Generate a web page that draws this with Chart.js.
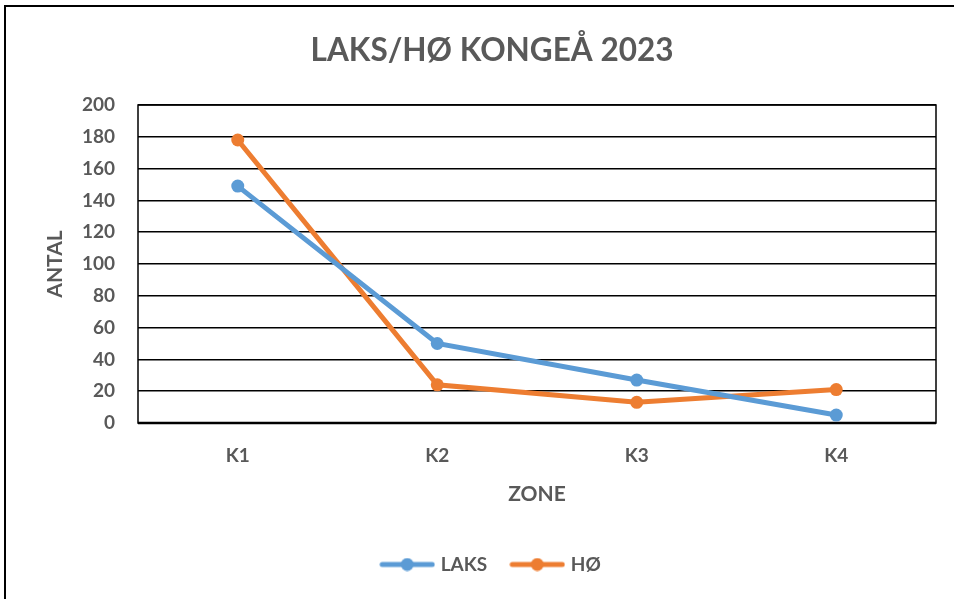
<!DOCTYPE html>
<html lang="da">
<head>
    <meta charset="UTF-8">
    <title>LAKS/HØ KONGEÅ 2023</title>
    <script src="https://cdn.jsdelivr.net/npm/chart.js@4.4.1/dist/chart.umd.min.js"></script>
    <style>
        body { margin: 0; background: #fff; }
        #chart { display: block; }
    </style>
</head>
<body>
    <canvas id="chart" width="954" height="599"></canvas>
    <script>
        const zones = ['K1', 'K2', 'K3', 'K4'];
        const laks = [149, 50, 27, 5];
        const hoe = [178, 24, 13, 21];

        const grey = '#595959';
        const blue = '#5B9BD5';
        const orange = '#ED7D31';
        const fontName = 'Lato';

        // legend marker: line with a dot in the middle
        function marker(color) {
            const c = document.createElement('canvas');
            c.width = 56; c.height = 14;
            const g = c.getContext('2d');
            g.strokeStyle = color;
            g.lineWidth = 5;
            g.lineCap = 'round';
            g.beginPath(); g.moveTo(3, 7); g.lineTo(53, 7); g.stroke();
            g.fillStyle = color;
            g.beginPath(); g.arc(28, 7, 6.5, 0, Math.PI * 2); g.fill();
            return c;
        }

        const frame = {
            id: 'frame',
            beforeDraw(chart) {
                const ctx = chart.ctx;
                ctx.save();
                ctx.fillStyle = '#fff';
                ctx.fillRect(0, 0, chart.width, chart.height);
                ctx.strokeStyle = '#000';
                ctx.lineWidth = 2;
                ctx.strokeRect(5, 6, chart.width + 20, chart.height + 20);
                ctx.restore();
            },
            beforeDatasetsDraw(chart) {
                const a = chart.chartArea;
                const ctx = chart.ctx;
                ctx.save();
                ctx.strokeStyle = '#000';
                ctx.lineWidth = 1.5;
                ctx.strokeRect(a.left, a.top, a.right - a.left, a.bottom - a.top);
                ctx.lineWidth = 2.5;
                ctx.beginPath(); ctx.moveTo(a.left, a.bottom); ctx.lineTo(a.right, a.bottom); ctx.stroke();
                ctx.restore();
            }
        };

        const markers = [marker(blue), marker(orange)];

        new Chart(document.getElementById('chart').getContext('2d'), {
            type: 'line',
            data: {
                labels: zones,
                datasets: [{
                    label: 'LAKS',
                    data: laks,
                    borderColor: blue,
                    backgroundColor: blue,
                    borderWidth: 5,
                    pointRadius: 6.5,
                    pointBorderWidth: 0,
                    pointBackgroundColor: blue
                }, {
                    label: 'HØ',
                    data: hoe,
                    borderColor: orange,
                    backgroundColor: orange,
                    borderWidth: 5,
                    pointRadius: 6.5,
                    pointBorderWidth: 0,
                    pointBackgroundColor: orange
                }]
            },
            options: {
                responsive: false,
                animation: false,
                layout: { padding: { left: 48, right: 18, top: 0, bottom: 15 } },
                plugins: {
                    title: {
                        display: true,
                        text: 'LAKS/HØ KONGEÅ 2023',
                        color: grey,
                        font: { family: fontName, size: 31.5, weight: 'bold' },
                        padding: { top: 32, bottom: 35.2 }
                    },
                    legend: {
                        position: 'bottom',
                        labels: {
                            usePointStyle: true,
                            pointStyleWidth: 48,
                            color: grey,
                            padding: 26,
                            font: { family: fontName, size: 19, weight: 'bold' },
                            generateLabels(chart) {
                                return chart.data.datasets.map((ds, i) => ({
                                    text: ds.label,
                                    fillStyle: ds.borderColor,
                                    strokeStyle: ds.borderColor,
                                    fontColor: grey,
                                    pointStyle: markers[i],
                                    lineWidth: 0,
                                    datasetIndex: i
                                }));
                            }
                        }
                    },
                    tooltip: { enabled: false }
                },
                scales: {
                    x: {
                        offset: true,
                        grid: { display: false, drawTicks: false },
                        border: { display: false },
                        ticks: {
                            color: grey,
                            padding: 21,
                            font: { family: fontName, size: 19, weight: 'bold' }
                        },
                        title: {
                            display: true,
                            text: 'ZONE',
                            color: grey,
                            font: { family: fontName, size: 21, weight: 'bold' },
                            padding: { top: 0, bottom: 22 }
                        },
                        afterFit(scale) { scale.height = 106; }
                    },
                    y: {
                        min: 0,
                        max: 200,
                        grid: { color: '#000', lineWidth: 1.5, drawTicks: false },
                        border: { display: false },
                        ticks: {
                            stepSize: 20,
                            color: grey,
                            padding: 23,
                            font: { family: fontName, size: 19, weight: 'bold' }
                        },
                        title: {
                            display: true,
                            text: 'ANTAL',
                            color: grey,
                            font: { family: fontName, size: 21, weight: 'bold' },
                            padding: { top: -5, bottom: 0 }
                        },
                        afterFit(scale) { scale.width = 90; }
                    }
                }
            },
            plugins: [frame]
        });
    </script>
</body>
</html>
